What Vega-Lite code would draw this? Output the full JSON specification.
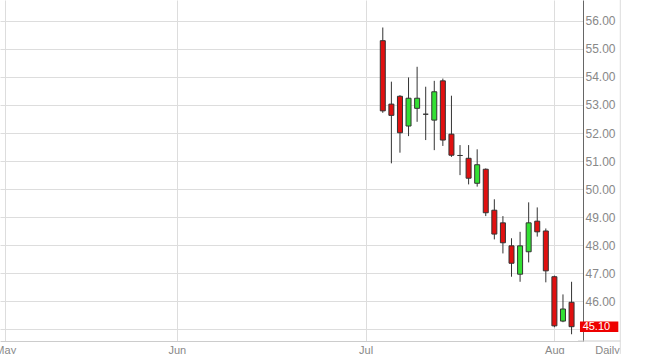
{
  "$schema": "https://vega.github.io/schema/vega-lite/v6.json",
  "width": 583,
  "height": 341,
  "autosize": {"type": "none"},
  "padding": {"left": 0, "top": 0, "right": 72, "bottom": 13},
  "background": "#ffffff",
  "config": {
    "view": {"stroke": null},
    "font": "Liberation Sans",
    "axis": {"labelOverlap": false, "labelFlush": false, "labelBound": false, "ticks": false, "labelColor": "#888888", "gridColor": "#dddddd"}
  },
  "data": {
    "values": [
      {"date": "2015-07-06", "i": 44, "open": 55.29, "high": 55.76, "low": 52.72, "close": 52.79},
      {"date": "2015-07-07", "i": 45, "open": 53.03, "high": 53.83, "low": 50.92, "close": 52.63},
      {"date": "2015-07-08", "i": 46, "open": 53.31, "high": 53.35, "low": 51.30, "close": 52.01},
      {"date": "2015-07-09", "i": 47, "open": 52.25, "high": 53.98, "low": 51.89, "close": 53.24},
      {"date": "2015-07-10", "i": 48, "open": 52.88, "high": 54.36, "low": 52.40, "close": 53.24},
      {"date": "2015-07-13", "i": 49, "open": 52.67, "high": 53.65, "low": 51.75, "close": 52.67},
      {"date": "2015-07-14", "i": 50, "open": 52.46, "high": 53.86, "low": 51.39, "close": 53.47},
      {"date": "2015-07-15", "i": 51, "open": 53.86, "high": 53.94, "low": 51.54, "close": 51.75},
      {"date": "2015-07-16", "i": 52, "open": 51.96, "high": 53.33, "low": 51.15, "close": 51.21},
      {"date": "2015-07-17", "i": 53, "open": 51.20, "high": 51.57, "low": 50.50, "close": 51.20},
      {"date": "2015-07-20", "i": 54, "open": 51.10, "high": 51.57, "low": 50.17, "close": 50.39},
      {"date": "2015-07-21", "i": 55, "open": 50.21, "high": 51.42, "low": 50.09, "close": 50.87},
      {"date": "2015-07-22", "i": 56, "open": 50.71, "high": 50.74, "low": 49.04, "close": 49.16},
      {"date": "2015-07-23", "i": 57, "open": 49.25, "high": 49.64, "low": 48.21, "close": 48.40},
      {"date": "2015-07-24", "i": 58, "open": 48.80, "high": 49.04, "low": 47.71, "close": 48.09},
      {"date": "2015-07-27", "i": 59, "open": 47.98, "high": 48.25, "low": 46.88, "close": 47.36},
      {"date": "2015-07-28", "i": 60, "open": 46.97, "high": 48.48, "low": 46.70, "close": 47.98},
      {"date": "2015-07-29", "i": 61, "open": 47.77, "high": 49.53, "low": 47.39, "close": 48.80},
      {"date": "2015-07-30", "i": 62, "open": 48.86, "high": 49.35, "low": 48.31, "close": 48.48},
      {"date": "2015-07-31", "i": 63, "open": 48.51, "high": 48.60, "low": 46.68, "close": 47.09},
      {"date": "2015-08-03", "i": 64, "open": 46.88, "high": 46.92, "low": 45.08, "close": 45.13},
      {"date": "2015-08-04", "i": 65, "open": 45.30, "high": 46.25, "low": 45.26, "close": 45.73},
      {"date": "2015-08-05", "i": 66, "open": 45.97, "high": 46.70, "low": 44.83, "close": 45.10}
    ]
  },
  "layer": [
    {
      "mark": {"type": "rule", "color": "#333333", "strokeWidth": 1},
      "encoding": {
        "x": {
          "field": "i",
          "type": "quantitative",
          "scale": {"domain": [-0.03, 66.75], "nice": false, "zero": false},
          "axis": {
            "orient": "bottom",
            "values": [0, 20, 42, 64],
            "tickCount": 20,
            "labelExpr": "datum.value == 0 ? 'May' : datum.value == 20 ? 'Jun' : datum.value == 42 ? 'Jul' : 'Aug'",
            "grid": true,
            "gridColor": "#dddddd",
            "gridWidth": 1,
            "domainColor": "#cccccc",
            "ticks": false,
            "labelPadding": 3,
            "labelColor": "#888888",
            "labelFontSize": 11,
            "labelFont": "Liberation Sans",
            "labelFlush": false,
            "labelOverlap": false,
            "title": "Daily",
            "titleX": 607,
            "titleY": 3,
            "titleBaseline": "top",
            "titleAlign": "center",
            "titleColor": "#888888",
            "titleFontSize": 11,
            "titleFontWeight": "normal",
            "titleFont": "Liberation Sans"
          }
        },
        "y": {
          "field": "low",
          "type": "quantitative",
          "scale": {"domain": [44.59, 56.74], "nice": false, "zero": false},
          "axis": {
            "orient": "right",
            "values": [45, 46, 47, 48, 49, 50, 51, 52, 53, 54, 55, 56],
            "tickCount": 30,
            "labelExpr": "datum.value == 45 ? '' : format(datum.value, '.2f')",
            "grid": true,
            "gridColor": "#dddddd",
            "domainColor": "#666666",
            "ticks": false,
            "labelPadding": 2,
            "labelColor": "#888888",
            "labelFontSize": 12,
            "labelFont": "Liberation Sans",
            "labelFlush": false,
            "labelOverlap": false,
            "labelBound": false,
            "title": null
          }
        },
        "y2": {"field": "high"}
      }
    },
    {
      "mark": {"type": "bar", "width": 5, "stroke": "#333333", "strokeWidth": 1},
      "encoding": {
        "x": {"field": "i", "type": "quantitative"},
        "y": {"field": "open", "type": "quantitative"},
        "y2": {"field": "close"},
        "fill": {
          "condition": [
            {"test": "datum.close > datum.open", "value": "#33e033"},
            {"test": "datum.close == datum.open", "value": "#111111"}
          ],
          "value": "#e01010"
        }
      }
    },
    {
      "transform": [{"filter": "datum.i == 66"}],
      "mark": {"type": "rect", "color": "#ee0000", "yOffset": -5.2, "y2Offset": 5.2},
      "encoding": {
        "x": {"datum": 66.98},
        "x2": {"datum": 71.45},
        "y": {"field": "close", "type": "quantitative"},
        "y2": {"field": "close"}
      }
    },
    {
      "transform": [{"filter": "datum.i == 66"}],
      "mark": {"type": "text", "align": "left", "baseline": "middle", "color": "#ffffff", "fontSize": 11, "font": "Liberation Sans"},
      "encoding": {
        "x": {"datum": 67.29},
        "y": {"field": "close", "type": "quantitative"},
        "text": {"field": "close", "type": "quantitative", "format": ".2f"}
      }
    },
    {
      "data": {"values": [{}]},
      "mark": {"type": "rule", "color": "#dddddd", "strokeWidth": 1},
      "encoding": {
        "x": {"datum": 71.68},
        "y": {"datum": 56.74},
        "y2": {"datum": 44.13}
      }
    },
    {
      "data": {"values": [{}]},
      "mark": {"type": "rule", "color": "#cccccc", "strokeWidth": 1},
      "encoding": {
        "x": {"datum": 66.75},
        "x2": {"datum": 71.68},
        "y": {"datum": 44.59}
      }
    }
  ]
}
